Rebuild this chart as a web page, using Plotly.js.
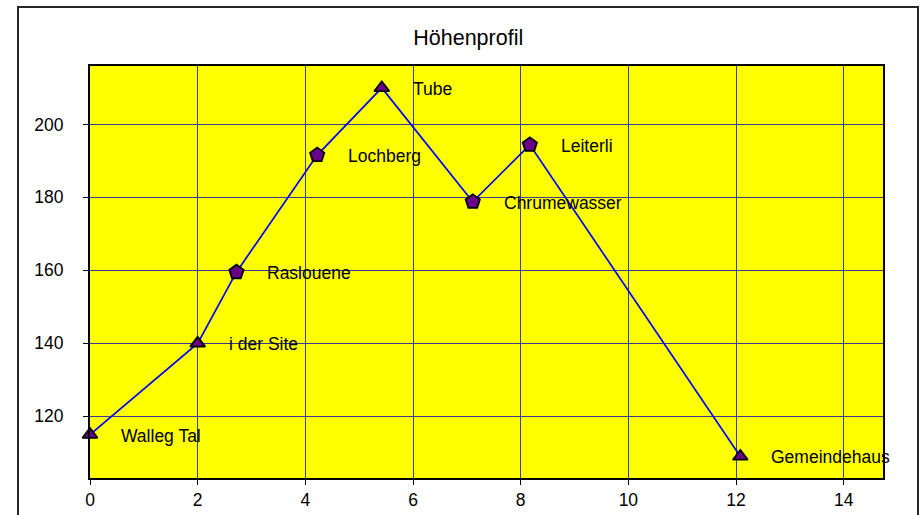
<!DOCTYPE html>
<html>
<head>
<meta charset="utf-8">
<script src="https://cdn.plot.ly/plotly-3.0.1.min.js"></script>
<style>
  html, body { margin: 0; padding: 0; background: #ffffff; overflow: hidden; }
  #chart { width: 921px; height: 515px; }
  #frame { position: absolute; left: 17px; top: 6px; width: 902px; height: 600px;
           box-sizing: border-box; border: 2px solid #262626; pointer-events: none; }
</style>
</head>
<body>
<div id="chart"></div>
<div id="frame"></div>
<script>
// Data
const stations = ["Walleg Tal", "i der Site", "Raslouene", "Lochberg", "Tube", "Chrumewasser", "Leiterli", "Gemeindehaus"];
const distance = [0, 2, 2.72, 4.22, 5.42, 7.11, 8.17, 12.08];
const elevation = [115, 140, 159.5, 191.6, 210, 178.8, 194.4, 109];
const markerKind = ["triangle-up", "triangle-up", "pentagon", "pentagon", "triangle-up", "pentagon", "pentagon", "triangle-up"];

const FONT = "Liberation Sans, Arial, sans-serif";

const trace = {
  type: "scatter",
  mode: "lines+markers",
  x: distance,
  y: elevation,
  cliponaxis: false,
  line: { color: "#0000ff", width: 1.7 },
  marker: {
    symbol: markerKind,
    size: markerKind.map(s => s === "pentagon" ? 15 : 13),
    color: "#6a0088",
    opacity: 1,
    line: { color: "#000000", width: 1.8 }
  },
  hoverinfo: "x+y",
  showlegend: false
};

const annotations = stations.map((name, i) => ({
  x: distance[i],
  y: elevation[i],
  xref: "x",
  yref: "y",
  text: name,
  showarrow: false,
  xanchor: "left",
  yanchor: "middle",
  xshift: 29,
  yshift: -1,
  font: { family: FONT, size: 17.5, color: "#000000" }
}));

const layout = {
  width: 921,
  height: 515,
  margin: { l: 90, r: 38, t: 66, b: 37 },
  paper_bgcolor: "#ffffff",
  plot_bgcolor: "#ffff00",
  title: {
    text: "Höhenprofil",
    font: { family: FONT, size: 21.5, color: "#000000" },
    x: 0.477,
    xref: "paper",
    xanchor: "center",
    y: 1 - 37 / 515,
    yref: "container",
    yanchor: "middle"
  },
  xaxis: {
    range: [0, 14.73],
    tick0: 0,
    dtick: 2,
    showgrid: true,
    gridcolor: "#3c3c8c",
    gridwidth: 1,
    zeroline: false,
    showline: true,
    linecolor: "#000000",
    linewidth: 2,
    mirror: true,
    ticks: "outside",
    ticklen: 5,
    tickcolor: "#000000",
    tickwidth: 1,
    ticklabelstandoff: 0,
    tickfont: { family: FONT, size: 17.5, color: "#000000" }
  },
  yaxis: {
    range: [103.1, 216],
    tick0: 0,
    dtick: 20,
    showgrid: true,
    gridcolor: "#3c3c8c",
    gridwidth: 1,
    zeroline: false,
    showline: true,
    linecolor: "#000000",
    linewidth: 2,
    mirror: true,
    ticks: "outside",
    ticklen: 5,
    tickcolor: "#000000",
    tickwidth: 1,
    ticklabelstandoff: 16,
    tickfont: { family: FONT, size: 17.5, color: "#000000" }
  },
  annotations: annotations
};

Plotly.newPlot("chart", [trace], layout, { displayModeBar: false, staticPlot: true });
</script>
</body>
</html>
